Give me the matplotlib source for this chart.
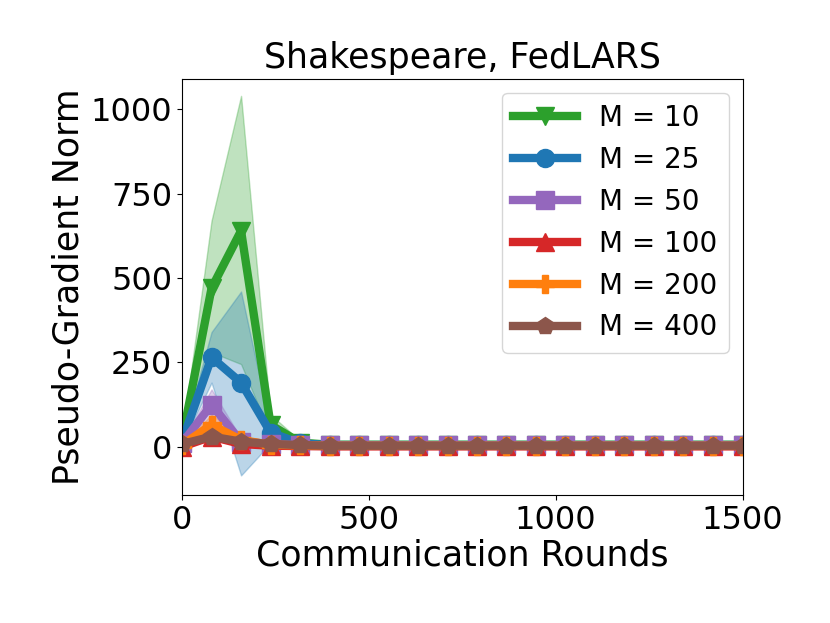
import matplotlib
matplotlib.use('Agg')
import matplotlib.pyplot as plt
import numpy as np

# communication rounds (20 evaluation points)
rounds = [0, 79, 158, 237, 316, 395, 474, 553, 632, 711,
          789, 868, 947, 1026, 1105, 1184, 1263, 1342, 1421, 1500]

labels = ['M = 10', 'M = 25', 'M = 50', 'M = 100', 'M = 200', 'M = 400']
colors = ['tab:green', 'tab:blue', 'tab:purple', 'tab:red', 'tab:orange', 'tab:brown']
markers = ['v', 'o', 's', '^', 'P', 'p']

tail = [6] * 15
m10_mean = [20, 470, 640, 65, 12] + tail
m10_up = [28, 670, 1040, 95, 18] + [9] * 15
m10_lo = [12, 280, 245, 35, 6] + [4] * 15

m25_mean = [15, 265, 190, 42, 10] + [5] * 15
m25_up = [22, 340, 460, 55, 14] + [8] * 15
m25_lo = [8, 190, -85, 10, 5] + [3] * 15

m50_mean = [10, 125, 15, 8, 5] + [4] * 15
m50_up = [14, 170, 25, 12, 8] + [6] * 15
m50_lo = [6, 80, 6, 4, 3] + [2] * 15

m100_mean = [0, 30, 8, 3, 2] + [1] * 15
m100_up = [3, 40, 12, 5, 3] + [2] * 15
m100_lo = [-3, 20, 4, 1, 0] + [0] * 15

m200_mean = [5, 65, 20, 6, 4] + [3] * 15
m200_up = [8, 95, 30, 9, 6] + [4] * 15
m200_lo = [2, 40, 10, 3, 2] + [1] * 15

m400_mean = [8, 30, 15, 8, 5] + [3] * 15
m400_up = [11, 38, 20, 10, 6] + [4] * 15
m400_lo = [5, 22, 10, 5, 3] + [2] * 15

means = [m10_mean, m25_mean, m50_mean, m100_mean, m200_mean, m400_mean]
ups = [m10_up, m25_up, m50_up, m100_up, m200_up, m400_up]
los = [m10_lo, m25_lo, m50_lo, m100_lo, m200_lo, m400_lo]

fig = plt.figure(figsize=(8.3, 6.23), dpi=100)
ax = fig.add_axes([0.2193, 0.2055, 0.6753, 0.6677])

for mean, up, lo, c, mk, lab in zip(means, ups, los, colors, markers, labels):
    ax.plot(rounds, mean, color=c, marker=mk, linewidth=6, markersize=13, label=lab)
    ax.fill_between(rounds, lo, up, color=c, alpha=0.3)

ax.set_xlim(0, 1500)
ax.set_ylim(-143, 1090)
ax.set_xticks([0, 500, 1000, 1500])
ax.set_yticks([0, 250, 500, 750, 1000])
ax.tick_params(labelsize=23)
ax.set_xlabel('Communication Rounds', fontsize=25, labelpad=2)
ax.set_ylabel('Pseudo-Gradient Norm', fontsize=25)
ax.set_title('Shakespeare, FedLARS', fontsize=25, pad=8)
ax.legend(fontsize=20, loc='upper right', handlelength=2.3)

fig.savefig('out.png', dpi=100)
